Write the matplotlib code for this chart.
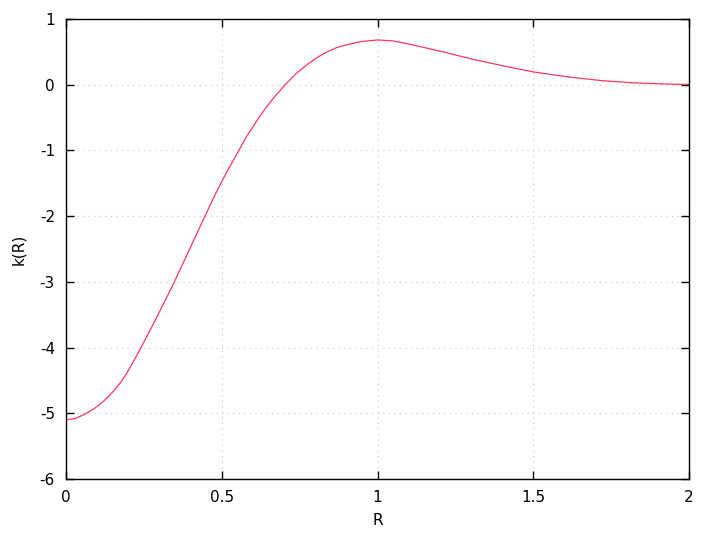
import matplotlib
matplotlib.use("Agg")
import matplotlib.pyplot as plt

# values
r_vals = [0.0, 0.03, 0.06, 0.09, 0.106, 0.122, 0.139, 0.156, 0.173, 0.19, 0.21, 0.237,
          0.288, 0.345, 0.395, 0.446, 0.48, 0.507, 0.529, 0.556, 0.577, 0.609,
          0.641, 0.674, 0.704, 0.738, 0.770, 0.802, 0.834, 0.867, 0.896, 0.947,
          1.0, 1.05, 1.108, 1.204, 1.302, 1.399, 1.504, 1.612, 1.719, 1.826,
          1.933, 2.0]
k_vals = [-5.10, -5.08, -5.015, -4.93, -4.875, -4.81, -4.73, -4.645, -4.545, -4.43, -4.265, -4.035,
          -3.57, -3.03, -2.52, -2.00, -1.66, -1.41, -1.22, -0.99, -0.81, -0.575,
          -0.355, -0.16, 0.0, 0.166, 0.29, 0.40, 0.49, 0.56, 0.60, 0.655,
          0.68, 0.665, 0.61, 0.505, 0.39, 0.29, 0.19, 0.117, 0.061, 0.026,
          0.008, 0.002]

x_ticks = [0, 0.5, 1, 1.5, 2]
x_labels = ["0", "0.5", "1", "1.5", "2"]
y_ticks = [1, 0, -1, -2, -3, -4, -5, -6]

fig = plt.figure(figsize=(7.2, 5.4), dpi=100)
ax = fig.add_axes([0.0917, 0.113, 0.8653, 0.852])

ax.plot(r_vals, k_vals, color="#ff3366", lw=0.9)

ax.set_xlim(0, 2)
ax.set_ylim(-6, 1)
ax.set_xticks(x_ticks)
ax.set_xticklabels(x_labels)
ax.set_yticks(y_ticks)
ax.set_yticklabels([str(v) for v in y_ticks])

ax.grid(True, color="#c8c8c8", linestyle=(0, (1, 4)), lw=0.8)
ax.tick_params(direction="in", length=6, width=1, top=True, right=True,
               labelsize=11, pad=8)
for s in ax.spines.values():
    s.set_linewidth(1)

ax.set_xlabel("R", fontsize=11, labelpad=6)
ax.set_ylabel("k(R)", fontsize=11, labelpad=10)

fig.savefig("out.png", dpi=100)
